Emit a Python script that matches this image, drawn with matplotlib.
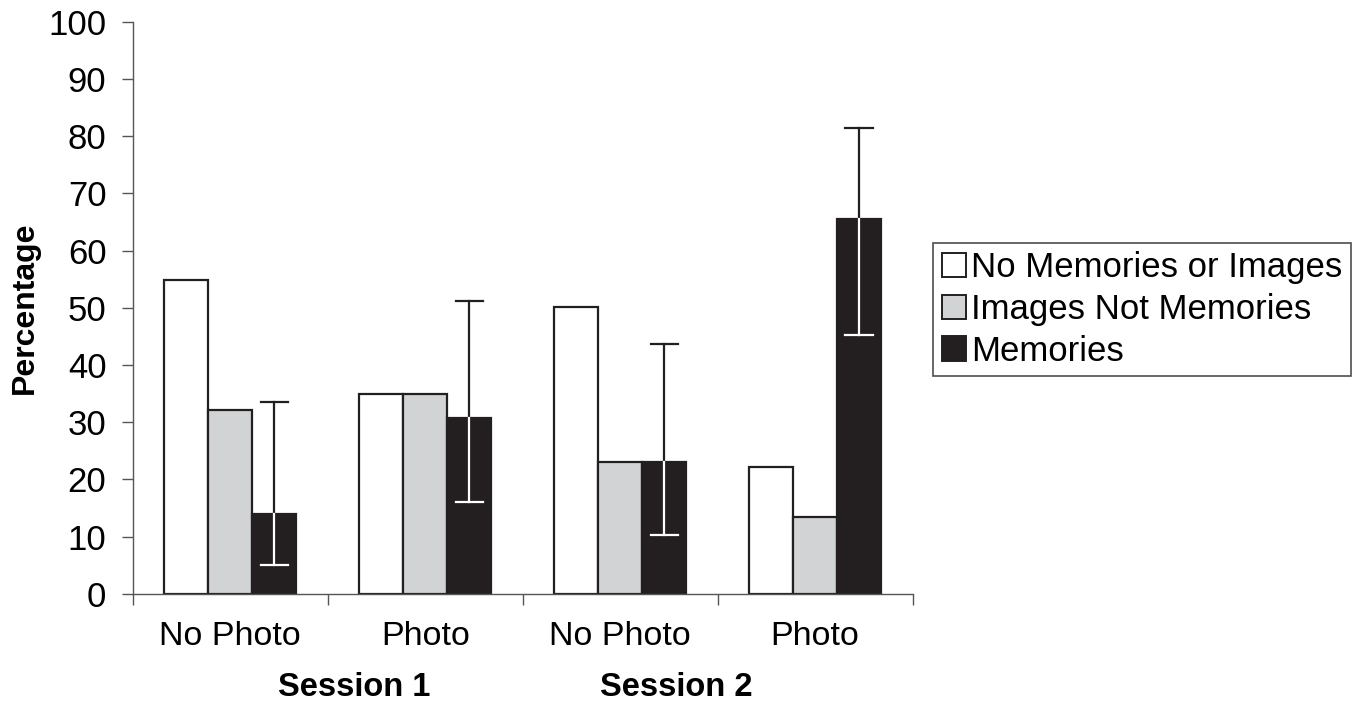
import matplotlib

matplotlib.use("Agg")
import matplotlib.pyplot as plt
import numpy as np
from matplotlib.patches import Patch

plt.rcParams["font.family"] = ["Liberation Sans", "DejaVu Sans"]

conditions = ["No Photo", "Photo", "No Photo", "Photo"]
sessions = ["Session 1", "Session 2"]
series_names = ["No Memories or Images", "Images Not Memories", "Memories"]
no_memories = [54.8, 35.0, 50.2, 22.2]
images_only = [32.2, 35.0, 23.0, 13.5]
memories = [14.0, 30.7, 23.0, 65.5]
memories_err_lo = [5.0, 16.0, 10.3, 45.2]
memories_err_hi = [33.6, 51.2, 43.6, 81.4]

ink = "#231f20"
fills = ["white", "#d1d3d4", ink]

fig = plt.figure(figsize=(13.56, 7.02), dpi=100)
ax = fig.add_axes([0.098, 0.154, 0.575, 0.815])

x = np.arange(len(conditions))
w = 44 / 195
for i, (vals, fc) in enumerate(zip([no_memories, images_only, memories], fills)):
    ax.bar(x + (i - 1) * w, vals, width=w, facecolor=fc, edgecolor=ink,
           linewidth=1.6, zorder=2)

# error bars on the Memories bars: dark above the bar, white inside it
xm = x + w
cap = 0.07
for xi, top, lo, hi in zip(xm, memories, memories_err_lo, memories_err_hi):
    ax.plot([xi, xi], [top, hi], color=ink, lw=1.6, zorder=3)
    ax.plot([xi - cap, xi + cap], [hi, hi], color=ink, lw=1.6, zorder=3)
    ax.plot([xi, xi], [lo, top], color="white", lw=1.6, zorder=3)
    ax.plot([xi - cap, xi + cap], [lo, lo], color="white", lw=1.6, zorder=3)

ax.set_xlim(-0.5, len(conditions) - 0.5)
ax.set_ylim(0, 100)
ax.set_yticks(np.arange(0, 101, 10))
ax.set_xticks(np.arange(-0.5, len(conditions)))
ax.set_xticklabels([])
ax.tick_params(axis="y", labelsize=25, length=8, width=1, color="#555555", direction="out", pad=11)
ax.tick_params(axis="x", length=8, width=1, color="#555555", direction="out")
for xi, lab in zip(x, conditions):
    ax.text(xi, -7.5, lab, ha="center", va="center", fontsize=24.5)
for xi, lab in zip([0.636, 2.287], sessions):
    ax.text(xi, -16.4, lab, ha="center", va="center", fontsize=23.5, fontweight="bold")

for side in ["top", "right"]:
    ax.spines[side].set_visible(False)
for side in ["left", "bottom"]:
    ax.spines[side].set_color("#555555")
    ax.spines[side].set_linewidth(1)

ax.set_ylabel("Percentage", fontsize=23, fontweight="bold", labelpad=6)

handles = [Patch(facecolor=fc, edgecolor=ink, linewidth=1.4) for fc in fills]
leg = fig.legend(handles, series_names, loc="center left", bbox_to_anchor=(0.688, 0.559),
                 fontsize=25, frameon=True, fancybox=False, handlelength=0.7,
                 handleheight=0.7, handletextpad=0.15, labelspacing=0.25,
                 borderpad=0.25, borderaxespad=0)
leg.get_frame().set_edgecolor(ink)
leg.get_frame().set_linewidth(1.2)

fig.savefig("out.png", dpi=100)
